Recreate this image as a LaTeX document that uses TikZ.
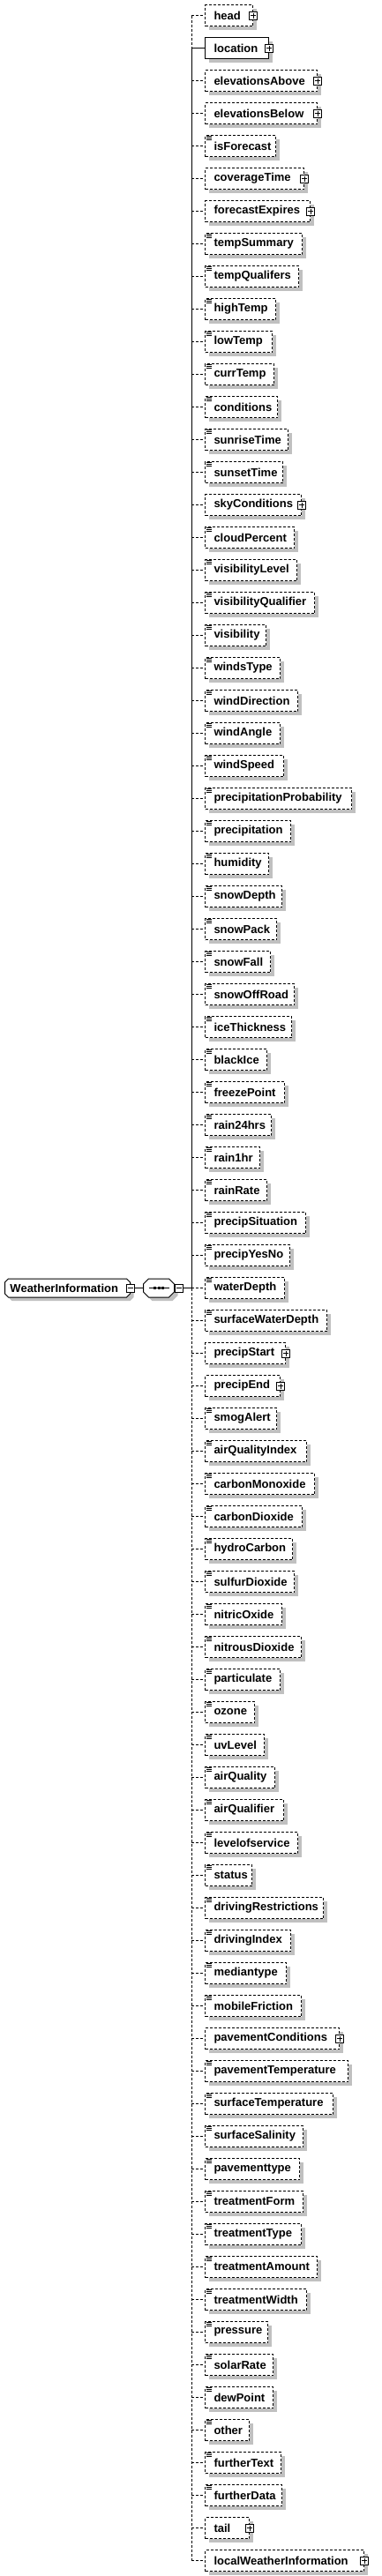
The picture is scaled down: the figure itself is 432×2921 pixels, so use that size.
\documentclass[tikz,border=0pt]{standalone}
\usepackage{fontspec}
\setmainfont{Liberation Sans}
\usetikzlibrary{shapes.misc,shadows}
\definecolor{shadowgray}{RGB}{192,192,192}
\tikzset{
	every node/.style={font=\bfseries\fontsize{13}{15}\selectfont},
	shade4/.style={drop shadow={shadow xshift=4pt, shadow yshift=-4pt, opacity=1, fill=shadowgray}},
	elem/.style={draw, fill=white, anchor=west, line width=1pt, minimum height=24pt, inner xsep=10pt, inner ysep=0pt, align=left, shade4, text width=#1},
	opt/.style={elem=#1, dash pattern=on 3pt off 2pt},
	req/.style={elem=#1, solid},
	simple/.style={opt=#1, path picture={\foreach \k in {1,3,5} \draw[solid, line width=1pt] ([xshift=1pt, yshift=-\k pt]path picture bounding box.north west) -- ++(6pt,0pt);}},
	plusbox/.style={draw, solid, fill=white, line width=1pt, minimum size=9pt, inner sep=0pt, path picture={\draw[line width=1pt] ([xshift=-3pt]path picture bounding box.center) -- ([xshift=3pt]path picture bounding box.center) ([yshift=-3pt]path picture bounding box.center) -- ([yshift=3pt]path picture bounding box.center);}},
	minusbox/.style={draw, solid, fill=white, line width=1pt, minimum size=9pt, inner sep=0pt, path picture={\draw[line width=1pt] ([xshift=-3pt]path picture bounding box.center) -- ([xshift=3pt]path picture bounding box.center);}},
	rootbox/.style={draw, fill=white, anchor=west, line width=1pt, chamfered rectangle, chamfered rectangle xsep=2pt, chamfered rectangle ysep=2pt, minimum height=21pt, inner xsep=4pt, inner ysep=0pt, align=left, text width=130pt, shade4},
	seqbox/.style={draw, fill=white, anchor=west, line width=1pt, chamfered rectangle, chamfered rectangle xsep=3pt, chamfered rectangle ysep=3pt, inner xsep=14.5pt, inner ysep=7.5pt, shade4, path picture={\draw[line width=1pt] ([xshift=-11.5pt]path picture bounding box.center) -- ([xshift=11.5pt]path picture bounding box.center); \foreach \d in {-4.5,0,4.5} \fill[black] ([xshift=\d pt]path picture bounding box.center) +(-1.5pt,-1.5pt) rectangle +(1.5pt,1.5pt);}},
	branch/.style={line width=1pt, dash pattern=on 3pt off 2pt},
	link/.style={line width=1pt}
}
\begin{document}
\begin{tikzpicture}[x=1pt, y=-1pt]
			\useasboundingbox (0,0) rectangle (432,2921);
			%Racine et sequence
			\node[rootbox] (WeatherInformation) at (5,1460.5) {WeatherInformation};
			\node[minusbox] (WeatherInformation-x) at (WeatherInformation.east) {};
			\node[seqbox] (seq) at (162,1460.5) {};
			\node[minusbox, anchor=west] (seq-x) at (seq.east) {};
			\coordinate (spine) at (217,1460.5);
			
			%Elements fils
			\node[opt=34pt] (head) at (232,17.5) {head};
			\node[req=52pt] (location) at (232,54.5) {location};
			\node[opt=107pt] (elevationsAbove) at (232,91.5) {elevationsAbove};
			\node[opt=107pt] (elevationsBelow) at (232,128.5) {elevationsBelow};
			\node[simple=60pt] (isForecast) at (232,165.5) {isForecast};
			\node[opt=92pt] (coverageTime) at (232,202.5) {coverageTime};
			\node[opt=99pt] (forecastExpires) at (232,239.5) {forecastExpires};
			\node[simple=90pt] (tempSummary) at (232,276.5) {tempSummary};
			\node[simple=86pt] (tempQualifers) at (232,313.5) {tempQualifers};
			\node[simple=60pt] (highTemp) at (232,350.5) {highTemp};
			\node[simple=56pt] (lowTemp) at (232,387.5) {lowTemp};
			\node[simple=58pt] (currTemp) at (232,424.5) {currTemp};
			\node[simple=62pt] (conditions) at (232,461.5) {conditions};
			\node[simple=74pt] (sunriseTime) at (232,498.5) {sunriseTime};
			\node[simple=68pt] (sunsetTime) at (232,535.5) {sunsetTime};
			\node[opt=89pt] (skyConditions) at (232,572.5) {skyConditions};
			\node[simple=81pt] (cloudPercent) at (232,609.5) {cloudPercent};
			\node[simple=84pt] (visibilityLevel) at (232,646.5) {visibilityLevel};
			\node[simple=104pt] (visibilityQualifier) at (232,683.5) {visibilityQualifier};
			\node[simple=49pt] (visibility) at (232,720.5) {visibility};
			\node[simple=65pt] (windsType) at (232,757.5) {windsType};
			\node[simple=85pt] (windDirection) at (232,794.5) {windDirection};
			\node[simple=65pt] (windAngle) at (232,831.5) {windAngle};
			\node[simple=69pt] (windSpeed) at (232,868.5) {windSpeed};
			\node[simple=146pt] (precipitationProbability) at (232,905.5) {precipitationProbability};
			\node[simple=77pt] (precipitation) at (232,942.5) {precipitation};
			\node[simple=52pt] (humidity) at (232,979.5) {humidity};
			\node[simple=67pt] (snowDepth) at (232,1016.5) {snowDepth};
			\node[simple=61pt] (snowPack) at (232,1053.5) {snowPack};
			\node[simple=54pt] (snowFall) at (232,1090.5) {snowFall};
			\node[simple=81pt] (snowOffRoad) at (232,1127.5) {snowOffRoad};
			\node[simple=78pt] (iceThickness) at (232,1164.5) {iceThickness};
			\node[simple=50pt] (blackIce) at (232,1201.5) {blackIce};
			\node[simple=70pt] (freezePoint) at (232,1238.5) {freezePoint};
			\node[simple=55pt] (rain24hrs) at (232,1275.5) {rain24hrs};
			\node[simple=42pt] (rain1hr) at (232,1312.5) {rain1hr};
			\node[simple=50pt] (rainRate) at (232,1349.5) {rainRate};
			\node[simple=94pt] (precipSituation) at (232,1386.5) {precipSituation};
			\node[simple=76pt] (precipYesNo) at (232,1423.5) {precipYesNo};
			\node[simple=70pt] (waterDepth) at (232,1460.5) {waterDepth};
			\node[simple=118pt] (surfaceWaterDepth) at (232,1497.5) {surfaceWaterDepth};
			\node[opt=71pt] (precipStart) at (232,1534.5) {precipStart};
			\node[opt=65pt] (precipEnd) at (232,1571.5) {precipEnd};
			\node[simple=61pt] (smogAlert) at (232,1608.5) {smogAlert};
			\node[simple=95pt] (airQualityIndex) at (232,1645.5) {airQualityIndex};
			\node[simple=104pt] (carbonMonoxide) at (232,1682.5) {carbonMonoxide};
			\node[simple=90pt] (carbonDioxide) at (232,1719.5) {carbonDioxide};
			\node[simple=79pt] (hydroCarbon) at (232,1756.5) {hydroCarbon};
			\node[simple=81pt] (sulfurDioxide) at (232,1793.5) {sulfurDioxide};
			\node[simple=67pt] (nitricOxide) at (232,1830.5) {nitricOxide};
			\node[simple=89pt] (nitrousDioxide) at (232,1867.5) {nitrousDioxide};
			\node[simple=65pt] (particulate) at (232,1904.5) {particulate};
			\node[simple=36pt] (ozone) at (232,1941.5) {ozone};
			\node[simple=47pt] (uvLevel) at (232,1978.5) {uvLevel};
			\node[simple=59pt] (airQuality) at (232,2015.5) {airQuality};
			\node[simple=69pt] (airQualifier) at (232,2052.5) {airQualifier};
			\node[simple=85pt] (levelofservice) at (232,2089.5) {levelofservice};
			\node[simple=33pt] (status) at (232,2126.5) {status};
			\node[simple=114pt] (drivingRestrictions) at (232,2163.5) {drivingRestrictions};
			\node[simple=77pt] (drivingIndex) at (232,2200.5) {drivingIndex};
			\node[simple=72pt] (mediantype) at (232,2237.5) {mediantype};
			\node[simple=89pt] (mobileFriction) at (232,2274.5) {mobileFriction};
			\node[opt=132pt] (pavementConditions) at (232,2311.5) {pavementConditions};
			\node[simple=142pt] (pavementTemperature) at (232,2348.5) {pavementTemperature};
			\node[simple=125pt] (surfaceTemperature) at (232,2385.5) {surfaceTemperature};
			\node[simple=91pt] (surfaceSalinity) at (232,2422.5) {surfaceSalinity};
			\node[simple=87pt] (pavementtype) at (232,2459.5) {pavementtype};
			\node[simple=91pt] (treatmentForm) at (232,2496.5) {treatmentForm};
			\node[simple=89pt] (treatmentType) at (232,2533.5) {treatmentType};
			\node[simple=107pt] (treatmentAmount) at (232,2570.5) {treatmentAmount};
			\node[simple=95pt] (treatmentWidth) at (232,2607.5) {treatmentWidth};
			\node[simple=51pt] (pressure) at (232,2644.5) {pressure};
			\node[simple=57pt] (solarRate) at (232,2681.5) {solarRate};
			\node[simple=57pt] (dewPoint) at (232,2718.5) {dewPoint};
			\node[simple=30pt] (other) at (232,2755.5) {other};
			\node[simple=66pt] (furtherText) at (232,2792.5) {furtherText};
			\node[simple=67pt] (furtherData) at (232,2829.5) {furtherData};
			\node[opt=30pt] (tail) at (232,2866.5) {tail};
			\node[opt=160pt] (localWeatherInformation) at (232,2903.5) {localWeatherInformation};
			
			%Boutons de depliage
			\node[plusbox] (head-x) at (head.east) {};
			\node[plusbox] (location-x) at (location.east) {};
			\node[plusbox] (elevationsAbove-x) at (elevationsAbove.east) {};
			\node[plusbox] (elevationsBelow-x) at (elevationsBelow.east) {};
			\node[plusbox] (coverageTime-x) at (coverageTime.east) {};
			\node[plusbox] (forecastExpires-x) at (forecastExpires.east) {};
			\node[plusbox] (skyConditions-x) at (skyConditions.east) {};
			\node[plusbox] (precipStart-x) at (precipStart.east) {};
			\node[plusbox] (precipEnd-x) at (precipEnd.east) {};
			\node[plusbox] (pavementConditions-x) at (pavementConditions.east) {};
			\node[plusbox] (tail-x) at (tail.east) {};
			\node[plusbox] (localWeatherInformation-x) at (localWeatherInformation.east) {};
			
			%Liens
			\draw[link] (WeatherInformation-x.east) -- (seq.west);
			\draw[link] (seq-x.east) -- (spine);
			\draw[branch] (spine |- head.west) -- (spine |- location.west);
			\draw[link] (spine |- location.west) -- (spine);
			\draw[branch] (spine) -- (spine |- localWeatherInformation.west);
			
			\draw[branch] (spine |- head.west) -- (head.west);
			\draw[link] (spine |- location.west) -- (location.west);
			\draw[branch] (spine |- elevationsAbove.west) -- (elevationsAbove.west);
			\draw[branch] (spine |- elevationsBelow.west) -- (elevationsBelow.west);
			\draw[branch] (spine |- isForecast.west) -- (isForecast.west);
			\draw[branch] (spine |- coverageTime.west) -- (coverageTime.west);
			\draw[branch] (spine |- forecastExpires.west) -- (forecastExpires.west);
			\draw[branch] (spine |- tempSummary.west) -- (tempSummary.west);
			\draw[branch] (spine |- tempQualifers.west) -- (tempQualifers.west);
			\draw[branch] (spine |- highTemp.west) -- (highTemp.west);
			\draw[branch] (spine |- lowTemp.west) -- (lowTemp.west);
			\draw[branch] (spine |- currTemp.west) -- (currTemp.west);
			\draw[branch] (spine |- conditions.west) -- (conditions.west);
			\draw[branch] (spine |- sunriseTime.west) -- (sunriseTime.west);
			\draw[branch] (spine |- sunsetTime.west) -- (sunsetTime.west);
			\draw[branch] (spine |- skyConditions.west) -- (skyConditions.west);
			\draw[branch] (spine |- cloudPercent.west) -- (cloudPercent.west);
			\draw[branch] (spine |- visibilityLevel.west) -- (visibilityLevel.west);
			\draw[branch] (spine |- visibilityQualifier.west) -- (visibilityQualifier.west);
			\draw[branch] (spine |- visibility.west) -- (visibility.west);
			\draw[branch] (spine |- windsType.west) -- (windsType.west);
			\draw[branch] (spine |- windDirection.west) -- (windDirection.west);
			\draw[branch] (spine |- windAngle.west) -- (windAngle.west);
			\draw[branch] (spine |- windSpeed.west) -- (windSpeed.west);
			\draw[branch] (spine |- precipitationProbability.west) -- (precipitationProbability.west);
			\draw[branch] (spine |- precipitation.west) -- (precipitation.west);
			\draw[branch] (spine |- humidity.west) -- (humidity.west);
			\draw[branch] (spine |- snowDepth.west) -- (snowDepth.west);
			\draw[branch] (spine |- snowPack.west) -- (snowPack.west);
			\draw[branch] (spine |- snowFall.west) -- (snowFall.west);
			\draw[branch] (spine |- snowOffRoad.west) -- (snowOffRoad.west);
			\draw[branch] (spine |- iceThickness.west) -- (iceThickness.west);
			\draw[branch] (spine |- blackIce.west) -- (blackIce.west);
			\draw[branch] (spine |- freezePoint.west) -- (freezePoint.west);
			\draw[branch] (spine |- rain24hrs.west) -- (rain24hrs.west);
			\draw[branch] (spine |- rain1hr.west) -- (rain1hr.west);
			\draw[branch] (spine |- rainRate.west) -- (rainRate.west);
			\draw[branch] (spine |- precipSituation.west) -- (precipSituation.west);
			\draw[branch] (spine |- precipYesNo.west) -- (precipYesNo.west);
			\draw[branch] (spine |- waterDepth.west) -- (waterDepth.west);
			\draw[branch] (spine |- surfaceWaterDepth.west) -- (surfaceWaterDepth.west);
			\draw[branch] (spine |- precipStart.west) -- (precipStart.west);
			\draw[branch] (spine |- precipEnd.west) -- (precipEnd.west);
			\draw[branch] (spine |- smogAlert.west) -- (smogAlert.west);
			\draw[branch] (spine |- airQualityIndex.west) -- (airQualityIndex.west);
			\draw[branch] (spine |- carbonMonoxide.west) -- (carbonMonoxide.west);
			\draw[branch] (spine |- carbonDioxide.west) -- (carbonDioxide.west);
			\draw[branch] (spine |- hydroCarbon.west) -- (hydroCarbon.west);
			\draw[branch] (spine |- sulfurDioxide.west) -- (sulfurDioxide.west);
			\draw[branch] (spine |- nitricOxide.west) -- (nitricOxide.west);
			\draw[branch] (spine |- nitrousDioxide.west) -- (nitrousDioxide.west);
			\draw[branch] (spine |- particulate.west) -- (particulate.west);
			\draw[branch] (spine |- ozone.west) -- (ozone.west);
			\draw[branch] (spine |- uvLevel.west) -- (uvLevel.west);
			\draw[branch] (spine |- airQuality.west) -- (airQuality.west);
			\draw[branch] (spine |- airQualifier.west) -- (airQualifier.west);
			\draw[branch] (spine |- levelofservice.west) -- (levelofservice.west);
			\draw[branch] (spine |- status.west) -- (status.west);
			\draw[branch] (spine |- drivingRestrictions.west) -- (drivingRestrictions.west);
			\draw[branch] (spine |- drivingIndex.west) -- (drivingIndex.west);
			\draw[branch] (spine |- mediantype.west) -- (mediantype.west);
			\draw[branch] (spine |- mobileFriction.west) -- (mobileFriction.west);
			\draw[branch] (spine |- pavementConditions.west) -- (pavementConditions.west);
			\draw[branch] (spine |- pavementTemperature.west) -- (pavementTemperature.west);
			\draw[branch] (spine |- surfaceTemperature.west) -- (surfaceTemperature.west);
			\draw[branch] (spine |- surfaceSalinity.west) -- (surfaceSalinity.west);
			\draw[branch] (spine |- pavementtype.west) -- (pavementtype.west);
			\draw[branch] (spine |- treatmentForm.west) -- (treatmentForm.west);
			\draw[branch] (spine |- treatmentType.west) -- (treatmentType.west);
			\draw[branch] (spine |- treatmentAmount.west) -- (treatmentAmount.west);
			\draw[branch] (spine |- treatmentWidth.west) -- (treatmentWidth.west);
			\draw[branch] (spine |- pressure.west) -- (pressure.west);
			\draw[branch] (spine |- solarRate.west) -- (solarRate.west);
			\draw[branch] (spine |- dewPoint.west) -- (dewPoint.west);
			\draw[branch] (spine |- other.west) -- (other.west);
			\draw[branch] (spine |- furtherText.west) -- (furtherText.west);
			\draw[branch] (spine |- furtherData.west) -- (furtherData.west);
			\draw[branch] (spine |- tail.west) -- (tail.west);
			\draw[branch] (spine |- localWeatherInformation.west) -- (localWeatherInformation.west);
		\end{tikzpicture}
\end{document}
